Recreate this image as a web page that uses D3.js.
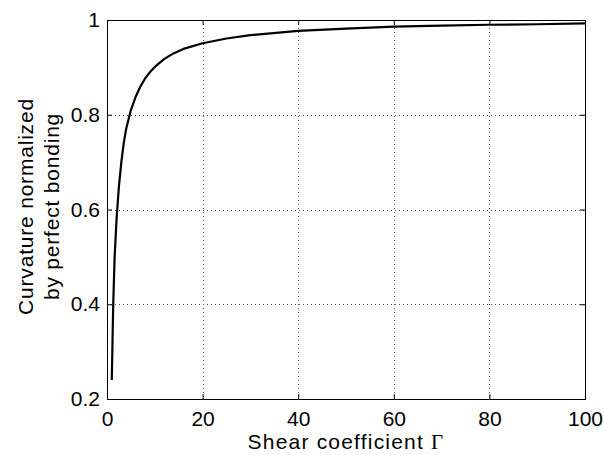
<!DOCTYPE html>
<html>
<head>
<meta charset="utf-8">
<script src="https://cdn.jsdelivr.net/npm/d3@7"></script>
<style>
  body { margin: 0; background: #fff; }
  text { font-family: Arial, "Liberation Sans", Helvetica, sans-serif; fill: #000; }
</style>
</head>
<body>
<div id="chart"></div>
<script>
// Shear coefficient vs normalized curvature
const gamma = [1, 1.3, 1.6, 2, 2.5, 3, 3.5, 4, 5, 6, 7, 8, 9, 10, 12, 14, 16, 20, 25, 30, 40, 50, 60, 70, 80, 90, 100];
const curvature = [0.24, 0.40, 0.50, 0.58, 0.65, 0.70, 0.74, 0.77, 0.81, 0.838, 0.86, 0.877, 0.89, 0.901, 0.918, 0.93, 0.939, 0.951, 0.961, 0.968, 0.977, 0.982, 0.986, 0.988, 0.990, 0.991, 0.993];
const xTicks = [0, 20, 40, 60, 80, 100];
const yTicks = [0.2, 0.4, 0.6, 0.8, 1];

const W = 604, H = 455;
const margin = {top: 20, right: 19, bottom: 56, left: 107};
const width = W - margin.left - margin.right;
const height = H - margin.top - margin.bottom;

const svg = d3.select("#chart").append("svg")
    .attr("width", W)
    .attr("height", H);

const g = svg.append("g")
    .attr("transform", `translate(${margin.left},${margin.top})`);

const x = d3.scaleLinear().domain([0, 100]).range([0, width]);
const y = d3.scaleLinear().domain([0.2, 1]).range([height, 0]);

// dotted grid
g.selectAll("line.gx")
    .data(xTicks.slice(1, -1))
    .enter().append("line")
    .attr("class", "gx")
    .attr("x1", d => Math.round(x(d)) + 0.5)
    .attr("x2", d => Math.round(x(d)) + 0.5)
    .attr("y1", 0)
    .attr("y2", height)
    .style("stroke", "#555")
    .style("stroke-dasharray", "1,3");

g.selectAll("line.gy")
    .data(yTicks.slice(1, -1))
    .enter().append("line")
    .attr("class", "gy")
    .attr("x1", 0)
    .attr("x2", width)
    .attr("y1", d => Math.round(y(d)) + 0.5)
    .attr("y2", d => Math.round(y(d)) + 0.5)
    .style("stroke", "#555")
    .style("stroke-dasharray", "1,3");

// axes (ticks inward, box)
const tickLen = 5;
const xAxis = g.append("g")
    .attr("transform", `translate(0,${height})`)
    .call(d3.axisBottom(x).tickValues(xTicks).tickSize(-tickLen).tickPadding(12).tickFormat(d3.format("d")));
const xAxisTop = g.append("g")
    .call(d3.axisTop(x).tickValues(xTicks).tickSize(-tickLen).tickFormat(""));
const yAxis = g.append("g")
    .call(d3.axisLeft(y).tickValues(yTicks).tickSize(-tickLen).tickPadding(7).tickFormat(d => d === 1 ? "1" : d3.format(".1f")(d)));
const yAxisRight = g.append("g")
    .attr("transform", `translate(${width},0)`)
    .call(d3.axisRight(y).tickValues(yTicks).tickSize(-tickLen).tickFormat(""));

[xAxis, xAxisTop, yAxis, yAxisRight].forEach(a => {
    a.select(".domain").attr("stroke", "#000");
    a.selectAll(".tick line").attr("stroke", "#000");
    a.selectAll("text")
        .style("font-size", "21px")
        .style("font-family", "Arial, 'Liberation Sans', sans-serif")
        .attr("fill", "#000");
});

// curve
const line = d3.line()
    .x((d, i) => x(gamma[i]))
    .y(d => y(d));

g.append("path")
    .datum(curvature)
    .attr("fill", "none")
    .attr("stroke", "#000")
    .attr("stroke-width", 2.2)
    .attr("stroke-linejoin", "round")
    .attr("d", line);

// x label
const xl = svg.append("text")
    .attr("x", margin.left + width / 2)
    .attr("y", 449)
    .attr("text-anchor", "middle")
    .style("font-size", "21px")
    .style("letter-spacing", "1.2px");
xl.append("tspan").text("Shear coefficient ");
xl.append("tspan").style("font-family", "'Liberation Serif', 'Times New Roman', serif").text("Γ");

// y label, two lines
const cy = margin.top + height / 2 - 3;
[["Curvature normalized", 33], ["by perfect bonding", 59]].forEach(([t, bx]) => {
    svg.append("text")
        .attr("transform", `translate(${bx},${cy}) rotate(-90)`)
        .attr("text-anchor", "middle")
        .style("font-size", "21px")
        .style("letter-spacing", "0.8px")
        .text(t);
});
</script>
</body>
</html>
